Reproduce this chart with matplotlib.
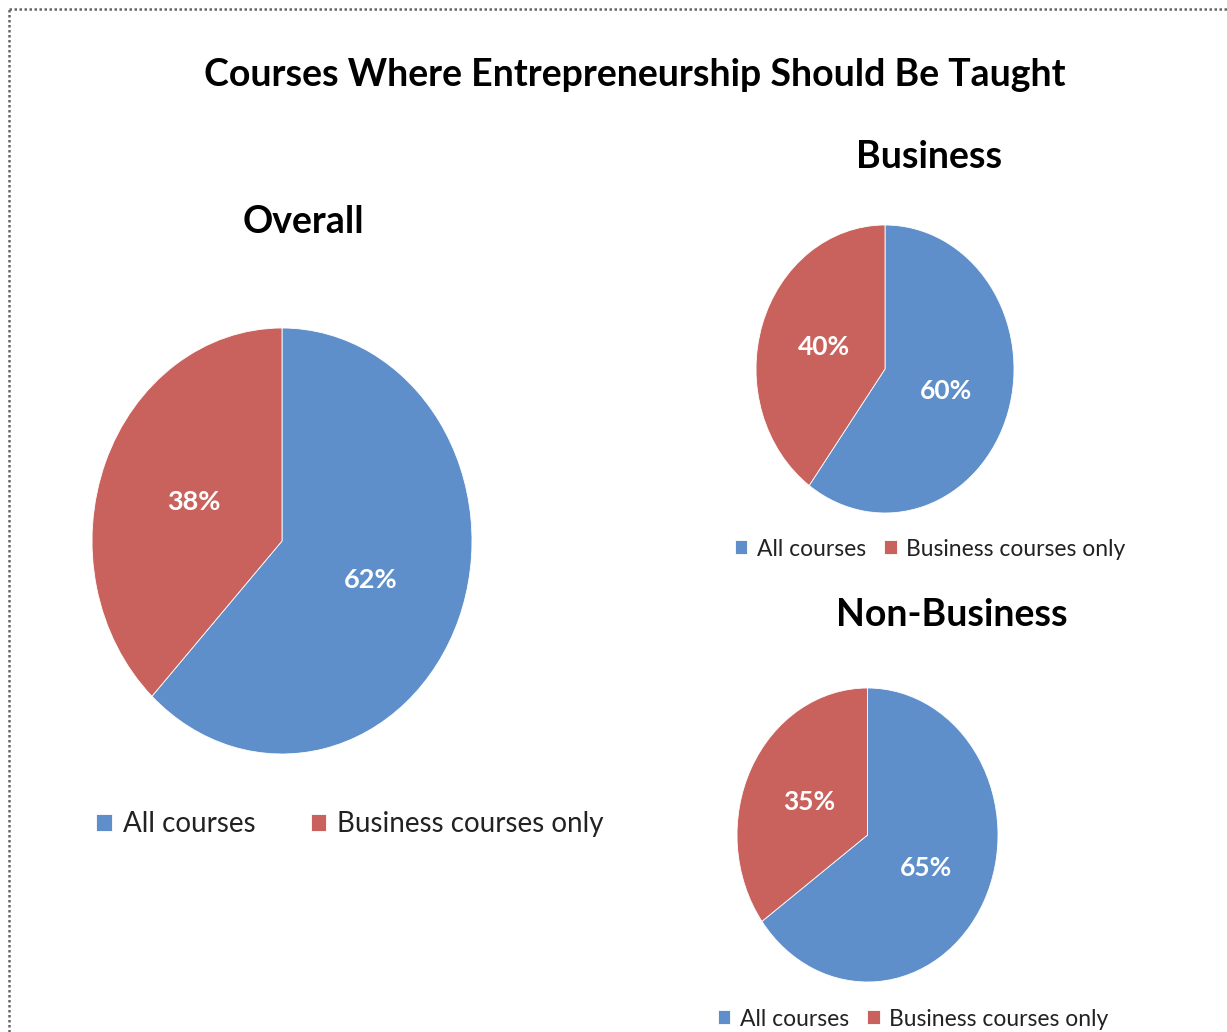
import matplotlib
matplotlib.use("Agg")
import matplotlib.pyplot as plt
from matplotlib.lines import Line2D

categories = ["All courses", "Business courses only"]
overall = [62, 38]
business = [60, 40]
non_business = [65, 35]
title = "Courses Where Entrepreneurship Should Be Taught"
panel_titles = ["Overall", "Business", "Non-Business"]
colors = ["#5E8FCB", "#C9625D"]

plt.rcParams['font.family'] = ['Lato', 'DejaVu Sans']

W, H = 1227, 1032
fig = plt.figure(figsize=(W / 100, H / 100), dpi=100)
fig.patch.set_facecolor("white")

def px_axes(x0, x1, y0, y1):
    return fig.add_axes([x0 / W, 1 - y1 / H, (x1 - x0) / W, (y1 - y0) / H])

def draw_pie(ax, vals, pct_size, pctdist):
    wedges, _, autotexts = ax.pie(vals, colors=colors, startangle=90, counterclock=False,
                                  autopct=lambda p: f"{p:.0f}%", pctdistance=pctdist,
                                  wedgeprops=dict(edgecolor="white", linewidth=0.6),
                                  textprops=dict(color="white", fontsize=pct_size, fontweight="bold"))
    ax.set_aspect("auto")
    ax.set_xlim(-1, 1)
    ax.set_ylim(-1, 1)
    ax.axis("off")
    return wedges

ax1 = px_axes(92, 472, 328, 754)
w1 = draw_pie(ax1, overall, 19.5, 0.5)
ax2 = px_axes(756, 1014, 225, 513)
w2 = draw_pie(ax2, business, 19, 0.5)
ax3 = px_axes(737, 998, 688, 982)
w3 = draw_pie(ax3, non_business, 19, 0.5)

fig.text(635 / W, 1 - 75 / H, title, ha="center", va="center", fontsize=27, fontweight="bold", color="black")
fig.text(303 / W, 1 - 222 / H, panel_titles[0], ha="center", va="center", fontsize=27, fontweight="bold")
fig.text(929 / W, 1 - 157 / H, panel_titles[1], ha="center", va="center", fontsize=27, fontweight="bold")
fig.text(952 / W, 1 - 615 / H, panel_titles[2], ha="center", va="center", fontsize=27, fontweight="bold")

def legend(ax, wedges, cx, cy, size, colsp):
    ax.legend(wedges, categories, loc="center", bbox_to_anchor=(cx / W, 1 - cy / H),
              bbox_transform=fig.transFigure, ncol=2, frameon=False, fontsize=size,
              handlelength=0.55, handleheight=0.55, handletextpad=0.4, columnspacing=colsp,
              labelcolor="#222222")

legend(ax1, w1, 350, 824, 20, 2.0)
legend(ax2, w2, 930, 549, 16.5, 0.8)
legend(ax3, w3, 913, 1019, 16.5, 0.8)

bx, by = 9 / W, 1 - 9 / H
fig.add_artist(Line2D([bx, bx], [0, by], transform=fig.transFigure, color="#666666", lw=1.8, ls=(0, (1, 1))))
fig.add_artist(Line2D([bx, 1], [by, by], transform=fig.transFigure, color="#666666", lw=1.8, ls=(0, (1, 1))))

fig.savefig("out.png", dpi=100, facecolor="white")
